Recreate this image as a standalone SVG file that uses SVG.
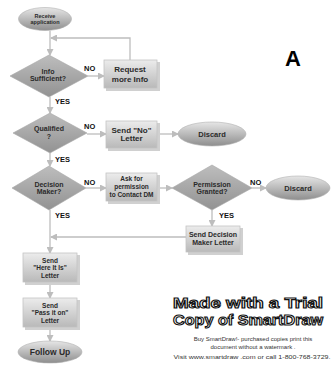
<svg xmlns="http://www.w3.org/2000/svg" width="336" height="372" viewBox="0 0 336 372">
<defs>
<linearGradient id="gEll" x1="0" y1="0" x2="0" y2="1">
<stop offset="0" stop-color="#e6e6e6"/><stop offset="1" stop-color="#8e8e8e"/>
</linearGradient>
<linearGradient id="gDia" x1="0" y1="0" x2="0" y2="1">
<stop offset="0" stop-color="#bdbdbd"/><stop offset="1" stop-color="#929292"/>
</linearGradient>
<linearGradient id="gBox" x1="0" y1="0" x2="0" y2="1">
<stop offset="0" stop-color="#ececec"/><stop offset="1" stop-color="#b9b9b9"/>
</linearGradient>
<marker id="ah" markerWidth="7" markerHeight="7" refX="6" refY="3.5" orient="auto" markerUnits="userSpaceOnUse">
<path d="M0,0 L7,3.5 L0,7 Z" fill="#bdbdbd"/>
</marker>
</defs>
<style>
.ell{fill:url(#gEll);stroke:#b0b0b0;stroke-width:0.6}
.dia{fill:url(#gDia);stroke:#a8a8a8;stroke-width:0.6}
.box{fill:url(#gBox);stroke:#c4c4c4;stroke-width:0.8}
.sh{fill:#d0d0d0}
.t{font-family:"Liberation Sans",Arial,sans-serif;font-weight:bold;fill:#2a2a2a;text-anchor:middle}
.lab{font-family:"Liberation Sans",Arial,sans-serif;font-weight:bold;fill:#111;font-size:7.5px}
.ln{fill:none;stroke:#bdbdbd;stroke-width:1.3}
.wm{font-family:"Liberation Sans",Arial,sans-serif;font-weight:bold;fill:#fff;stroke:#111;stroke-width:1.1;text-anchor:middle;font-size:15px}
.sm{font-family:"Liberation Sans",Arial,sans-serif;fill:#333;text-anchor:middle;font-size:6px}
</style>
<rect width="336" height="372" fill="#fff"/>
<g id="connectors">
<line class="ln" x1="50" y1="31" x2="50" y2="55" marker-end="url(#ah)"/>
<line class="ln" x1="88" y1="76" x2="104" y2="76" marker-end="url(#ah)"/>
<polyline class="ln" points="130,60 130,38 51,38" marker-end="url(#ah)"/>
<line class="ln" x1="50" y1="97" x2="50" y2="113" marker-end="url(#ah)"/>
<line class="ln" x1="87" y1="134" x2="106" y2="134" marker-end="url(#ah)"/>
<line class="ln" x1="157" y1="134" x2="178" y2="134" marker-end="url(#ah)"/>
<line class="ln" x1="50" y1="153" x2="50" y2="166" marker-end="url(#ah)"/>
<line class="ln" x1="86" y1="188" x2="106" y2="188" marker-end="url(#ah)"/>
<line class="ln" x1="157" y1="188" x2="172" y2="188" marker-end="url(#ah)"/>
<line class="ln" x1="252" y1="188" x2="266" y2="188" marker-end="url(#ah)"/>
<line class="ln" x1="212" y1="210" x2="212" y2="226" marker-end="url(#ah)"/>
<line class="ln" x1="186" y1="237" x2="51" y2="237" marker-end="url(#ah)"/>
<line class="ln" x1="50" y1="210" x2="50" y2="253" marker-end="url(#ah)"/>
<line class="ln" x1="50" y1="282" x2="50" y2="298" marker-end="url(#ah)"/>
<line class="ln" x1="50" y1="327" x2="50" y2="341" marker-end="url(#ah)"/>
<text class="lab" x="84" y="71">NO</text>
<text class="lab" x="55" y="104">YES</text>
<text class="lab" x="84" y="129">NO</text>
<text class="lab" x="55" y="162">YES</text>
<text class="lab" x="84" y="185">NO</text>
<text class="lab" x="55" y="218">YES</text>
<text class="lab" x="250" y="185">NO</text>
<text class="lab" x="219" y="218">YES</text>
</g>
<g id="receive">
<ellipse class="ell" cx="45" cy="19" rx="26.5" ry="11.5"/>
<text class="t" font-size="5.5" x="45" y="17.5">Receive</text>
<text class="t" font-size="5.5" x="45" y="24">application</text>
</g>
<g id="info">
<polygon class="dia" points="49,55 88,76 49,97 10,76"/>
<text class="t" font-size="7" x="48" y="74">Info</text>
<text class="t" font-size="7" x="48" y="81">Sufficient?</text>
</g>
<g id="request">
<rect class="sh" x="106" y="62" width="54" height="29"/>
<rect class="box" x="104" y="60" width="53" height="28"/>
<text class="t" font-size="8" x="130" y="72">Request</text>
<text class="t" font-size="8" x="130" y="82">more Info</text>
</g>
<g id="qualified">
<polygon class="dia" points="50,113 87,133 50,153 13,133"/>
<text class="t" font-size="7" x="49" y="131">Qualified</text>
<text class="t" font-size="7" x="49" y="139">?</text>
</g>
<g id="sendno">
<rect class="sh" x="108" y="123" width="52" height="28"/>
<rect class="box" x="106" y="121" width="51" height="27"/>
<text class="t" font-size="8" x="131.5" y="133">Send "No"</text>
<text class="t" font-size="8" x="131.5" y="141">Letter</text>
</g>
<g id="discard1">
<ellipse class="ell" cx="212" cy="134" rx="34" ry="12"/>
<text class="t" font-size="7.5" x="212" y="137">Discard</text>
</g>
<g id="decision">
<polygon class="dia" points="49,166 86,188 49,210 12,188"/>
<text class="t" font-size="7" x="49" y="187">Decision</text>
<text class="t" font-size="7" x="49" y="194">Maker?</text>
</g>
<g id="ask">
<rect class="sh" x="108" y="175" width="52" height="29"/>
<rect class="box" x="106" y="173" width="51" height="28"/>
<text class="t" font-size="6.5" x="131.5" y="180.5">Ask for</text>
<text class="t" font-size="6.5" x="131.5" y="189">permission</text>
<text class="t" font-size="6.5" x="131.5" y="197">to Contact DM</text>
</g>
<g id="permission">
<polygon class="dia" points="212,165 252,188 212,210 172,188"/>
<text class="t" font-size="7" x="212" y="187">Permission</text>
<text class="t" font-size="7" x="212" y="194">Granted?</text>
</g>
<g id="discard2">
<ellipse class="ell" cx="298" cy="188" rx="32" ry="12"/>
<text class="t" font-size="7.5" x="298" y="191">Discard</text>
</g>
<g id="senddm">
<rect class="sh" x="188" y="228" width="55" height="27"/>
<rect class="box" x="186" y="226" width="54" height="26"/>
<text class="t" font-size="7" x="213" y="237">Send Decision</text>
<text class="t" font-size="7" x="213" y="245">Maker Letter</text>
</g>
<g id="hereitis">
<rect class="sh" x="25" y="255" width="55" height="30"/>
<rect class="box" x="23" y="253" width="54" height="29"/>
<text class="t" font-size="6.5" x="50" y="263">Send</text>
<text class="t" font-size="6.5" x="50" y="270">"Here It Is"</text>
<text class="t" font-size="6.5" x="50" y="278">Letter</text>
</g>
<g id="passiton">
<rect class="sh" x="25" y="300" width="55" height="30"/>
<rect class="box" x="23" y="298" width="54" height="29"/>
<text class="t" font-size="6.5" x="50" y="308">Send</text>
<text class="t" font-size="6.5" x="50" y="315">"Pass it on"</text>
<text class="t" font-size="6.5" x="50" y="323">Letter</text>
</g>
<g id="followup">
<ellipse class="ell" cx="50" cy="352" rx="32" ry="11"/>
<text class="t" font-size="8.5" x="50" y="355">Follow Up</text>
</g>
<text x="293" y="66" font-family="Liberation Sans,Arial,sans-serif" font-weight="bold" font-size="22" text-anchor="middle" fill="#000">A</text>
<text class="wm" x="248" y="308" textLength="150" lengthAdjust="spacingAndGlyphs">Made with a Trial</text>
<text class="wm" x="248" y="325" textLength="150" lengthAdjust="spacingAndGlyphs">Copy of SmartDraw</text>
<text class="sm" x="253" y="341">Buy SmartDraw!- purchased copies print this</text>
<text class="sm" x="253" y="349">document without a watermark .</text>
<text class="sm" x="252" y="359" textLength="157" lengthAdjust="spacingAndGlyphs">Visit www.smartdraw .com or call 1-800-768-3729.</text>
</svg>
